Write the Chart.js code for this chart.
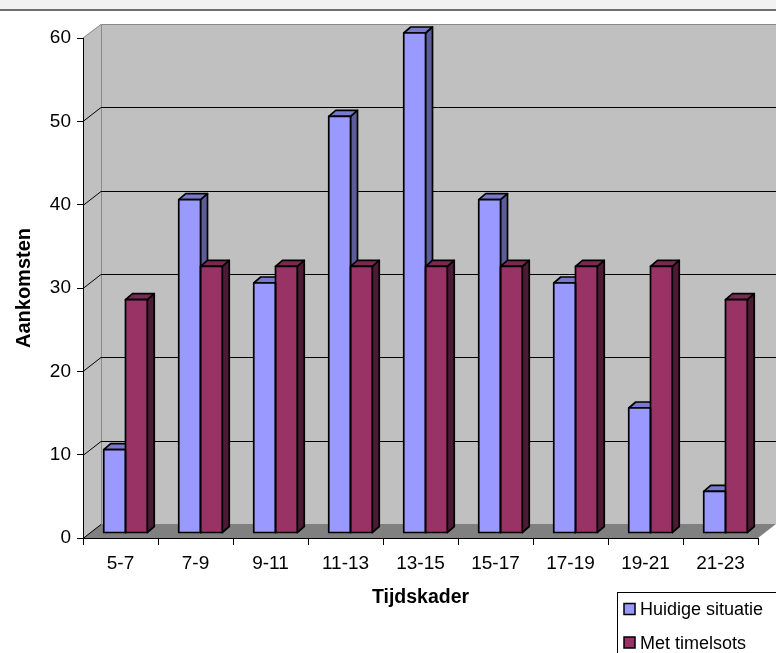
<!DOCTYPE html>
<html>
<head>
<meta charset="utf-8">
<script src="https://cdn.jsdelivr.net/npm/chart.js@4"></script>
<style>
  html, body { margin: 0; padding: 0; background: #ffffff; }
  canvas { display: block; }
</style>
</head>
<body>
<canvas id="chart" width="776" height="653"></canvas>
<script>
// Arrivals per time slot
const categories = ['5-7', '7-9', '9-11', '11-13', '13-15', '15-17', '17-19', '19-21', '21-23'];
const huidigeSituatie = [10, 40, 30, 50, 60, 40, 30, 15, 5];
const metTimelsots = [28, 32, 32, 32, 32, 32, 32, 32, 28];
const yTickValues = [0, 10, 20, 30, 40, 50, 60];
const seriesNames = ['Huidige situatie', 'Met timelsots'];

// 3D look: bars sit a little behind the axis plane, walls further back
const BAR_SHIFT_X = 5, BAR_SHIFT_Y = -5;
const BAR_DEPTH_X = 7, BAR_DEPTH_Y = 6;
const WALL_DX = 18, WALL_DY = 14;
const OUTLINE = 1.7;

const faceColors = [
  { front: '#9999FF', top: '#7A7ACC', side: '#5C5C99' },
  { front: '#993366', top: '#7A2952', side: '#4D1A33' }
];

const FONT = '"Liberation Sans", Arial, sans-serif';

function poly(ctx, pts, fill, stroke, lw) {
  ctx.beginPath();
  ctx.moveTo(pts[0][0], pts[0][1]);
  for (let i = 1; i < pts.length; i++) ctx.lineTo(pts[i][0], pts[i][1]);
  ctx.closePath();
  if (fill) { ctx.fillStyle = fill; ctx.fill(); }
  if (stroke) { ctx.strokeStyle = stroke; ctx.lineWidth = lw || 1; ctx.stroke(); }
}

const scenePlugin = {
  id: 'scene3d',
  beforeDraw(chart) {
    const ctx = chart.ctx;
    const W = chart.width;
    // window strip along the top
    ctx.save();
    ctx.fillStyle = '#ffffff';
    ctx.fillRect(0, 0, W, chart.height);
    ctx.fillStyle = '#f2f2f2';
    ctx.fillRect(0, 0, W, 9);
    ctx.fillStyle = '#6e6e6e';
    ctx.fillRect(0, 9, W, 2);

    const xs = chart.scales.x, ys = chart.scales.y;
    const L = xs.left, R = xs.right;
    const y0 = ys.getPixelForValue(0);
    const yTop = ys.getPixelForValue(yTickValues[yTickValues.length - 1]);

    // side wall
    poly(ctx, [[L, yTop], [L + WALL_DX, yTop - WALL_DY], [L + WALL_DX, y0 - WALL_DY], [L, y0]], '#c0c0c0');
    // back wall
    poly(ctx, [[L + WALL_DX, yTop - WALL_DY], [R + WALL_DX, yTop - WALL_DY], [R + WALL_DX, y0 - WALL_DY], [L + WALL_DX, y0 - WALL_DY]], '#c0c0c0');
    // floor
    poly(ctx, [[L, y0], [R, y0], [R + WALL_DX, y0 - WALL_DY], [L + WALL_DX, y0 - WALL_DY]], '#808080');

    // wall outline
    ctx.lineWidth = 1;
    ctx.strokeStyle = '#8a8a8a';
    ctx.beginPath();
    ctx.moveTo(L + WALL_DX + 0.5, y0 - WALL_DY);
    ctx.lineTo(L + WALL_DX + 0.5, yTop - WALL_DY + 0.5);
    ctx.lineTo(R + WALL_DX, yTop - WALL_DY + 0.5);
    ctx.stroke();
    ctx.beginPath();
    ctx.moveTo(L, yTop);
    ctx.lineTo(L + WALL_DX, yTop - WALL_DY + 0.5);
    ctx.stroke();

    // gridlines on back and side walls
    ctx.strokeStyle = '#000000';
    yTickValues.forEach(v => {
      if (v === yTickValues[yTickValues.length - 1]) return;
      const py = Math.round(ys.getPixelForValue(v)) + 0.5;
      ctx.beginPath();
      ctx.moveTo(L, py);
      ctx.lineTo(L + WALL_DX, py - WALL_DY);
      if (v !== 0) ctx.lineTo(R + WALL_DX, py - WALL_DY);
      ctx.stroke();
    });
    ctx.restore();
  },
  beforeDatasetsDraw(chart) {
    const ctx = chart.ctx;
    ctx.save();
    ctx.translate(BAR_SHIFT_X, BAR_SHIFT_Y);
    const n = chart.data.labels.length;
    ctx.lineJoin = 'round';
    for (let i = 0; i < n; i++) {
      chart.data.datasets.forEach((ds, d) => {
        const el = chart.getDatasetMeta(d).data[i];
        const p = el.getProps(['x', 'y', 'base', 'width'], true);
        const l = p.x - p.width / 2, r = p.x + p.width / 2;
        const t = p.y, b = p.base;
        const c = faceColors[d];
        // right side face
        poly(ctx, [[r, t], [r + BAR_DEPTH_X, t - BAR_DEPTH_Y], [r + BAR_DEPTH_X, b - BAR_DEPTH_Y], [r, b]], c.side, '#000', OUTLINE);
        // top face
        poly(ctx, [[l, t], [l + BAR_DEPTH_X, t - BAR_DEPTH_Y], [r + BAR_DEPTH_X, t - BAR_DEPTH_Y], [r, t]], c.top, '#000', OUTLINE);
      });
    }
  },
  afterDatasetsDraw(chart) {
    const ctx = chart.ctx;
    ctx.lineJoin = 'round';
    chart.data.datasets.forEach((ds, d) => {
      chart.getDatasetMeta(d).data.forEach(el => {
        const p = el.getProps(['x', 'y', 'base', 'width'], true);
        ctx.strokeStyle = '#000';
        ctx.lineWidth = OUTLINE;
        ctx.strokeRect(p.x - p.width / 2, p.y, p.width, p.base - p.y);
      });
    });
    ctx.restore();
  },
  afterDraw(chart) {
    const ctx = chart.ctx;
    ctx.save();
    // legend box
    ctx.fillStyle = '#ffffff';
    ctx.fillRect(617, 592, 170, 70);
    ctx.strokeStyle = '#000';
    ctx.lineWidth = 1;
    ctx.strokeRect(617.5, 592.5, 170, 70);
    ctx.font = '18px ' + FONT;
    ctx.textBaseline = 'alphabetic';
    ctx.textAlign = 'left';
    const rows = [615, 648.5];
    chart.data.datasets.forEach((ds, d) => {
      const by = rows[d];
      ctx.fillStyle = ds.backgroundColor;
      ctx.fillRect(624, by - 11.5, 11, 11);
      ctx.lineWidth = 1.5;
      ctx.strokeRect(624, by - 11.5, 11, 11);
      ctx.fillStyle = '#000';
      ctx.fillText(ds.label, 640, by);
    });
    ctx.restore();
  }
};

new Chart(document.getElementById('chart'), {
  type: 'bar',
  data: {
    labels: categories,
    datasets: [
      { label: seriesNames[0], data: huidigeSituatie, backgroundColor: faceColors[0].front, borderWidth: 0 },
      { label: seriesNames[1], data: metTimelsots, backgroundColor: faceColors[1].front, borderWidth: 0 }
    ]
  },
  options: {
    responsive: false,
    animation: false,
    events: [],
    devicePixelRatio: 1,
    layout: { padding: { top: 38, right: 18, left: 0, bottom: 0 } },
    datasets: { bar: { categoryPercentage: 0.58, barPercentage: 1, clip: false } },
    plugins: { legend: { display: false }, tooltip: { enabled: false } },
    scales: {
      x: {
        afterFit(scale) { scale.height = 115; },
        grid: { offset: true, drawOnChartArea: false, drawTicks: true, tickLength: 7, color: '#000' },
        border: { display: true, color: '#000', width: 1 },
        ticks: { color: '#000', font: { family: FONT, size: 19 }, padding: 7, maxRotation: 0, autoSkip: false },
        title: { display: true, text: 'Tijdskader', color: '#000', font: { family: FONT, size: 19.5, weight: 'bold' }, padding: { top: 0, bottom: 44 } }
      },
      y: {
        min: 0, max: 60,
        afterFit(scale) { scale.width = 83; },
        afterBuildTicks(scale) { scale.ticks = yTickValues.map(v => ({ value: v })); },
        grid: { drawOnChartArea: false, drawTicks: true, tickLength: 6, color: '#000' },
        border: { display: true, color: '#000', width: 1 },
        ticks: { color: '#000', font: { family: FONT, size: 19 }, padding: 6 },
        title: { display: true, text: 'Aankomsten', color: '#000', font: { family: FONT, size: 20, weight: 'bold' }, padding: { top: 12, bottom: 0 } }
      }
    }
  },
  plugins: [scenePlugin]
});
</script>
</body>
</html>
